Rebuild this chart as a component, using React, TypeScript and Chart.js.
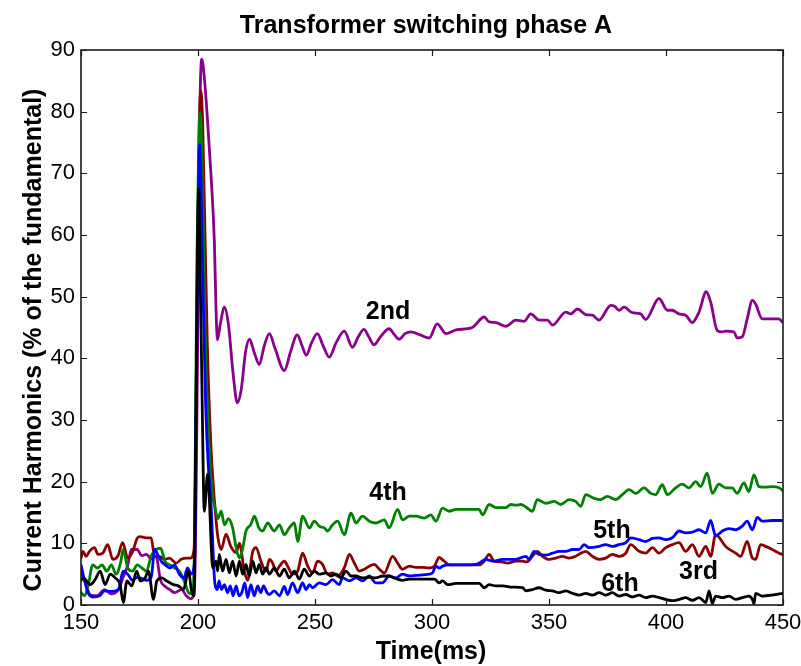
import React, { useEffect, useRef } from "react";
import { Chart, registerables } from "chart.js";

Chart.register(...registerables);

const chartTitle = "Transformer switching phase A";
const xAxisTitle = "Time(ms)";
const yAxisTitle = "Current Harmonics (% of the fundamental)";
const xTickValues = [150, 200, 250, 300, 350, 400, 450];
const yTickValues = [0, 10, 20, 30, 40, 50, 60, 70, 80, 90];

// 2nd harmonic (purple)
const h2Time = [150, 152, 154, 157, 160, 163, 166, 168, 170, 171.5, 174, 176, 178, 180, 182, 184, 186, 188, 190, 193, 195, 197, 198.5, 199.8, 200.8, 201.6, 202.6, 204, 205.6, 207, 207.7, 208.3, 209.5, 211.3, 213, 215, 216.8, 218.5, 220.3, 222, 224, 226.2, 228.3, 230.5, 233, 236.9, 239.5, 242.4, 244.5, 246.3, 248.5, 251, 253.5, 256.1, 259, 262.5, 266, 268.5, 270.9, 273, 275.2, 278, 281.6, 284, 285.9, 288.5, 291, 295, 298.8, 302.2, 306, 310.3, 317.2, 322.3, 324.4, 327.3, 331.6, 335.8, 339.4, 342.2, 345.8, 349.3, 351.5, 357.2, 359.3, 362.1, 365.7, 368.5, 371.4, 376.4, 378.2, 379.9, 382.1, 385.6, 389.2, 391.3, 397, 400.6, 402.7, 405.5, 408.4, 411.2, 414.1, 417.2, 419.1, 421.9, 424, 425.5, 429, 430.4, 432.6, 434.7, 436.9, 438.3, 441.1, 448.2, 450];
const h2Values = [5.5, 3.5, 1.6, 1.5, 2.5, 1.8, 2.5, 4.5, 6.5, 9, 9, 8, 8.2, 7.5, 8, 4, 3, 2.5, 2, 2.5, 1.5, 1, 3, 40, 80, 88.5, 86, 79, 69.5, 58.8, 48, 43, 45.5, 48.3, 45.5, 37.5, 32.8, 35, 41, 43.1, 41, 39, 42, 44, 41.5, 38, 41, 43.8, 42, 40.5, 42.5, 44, 42, 40.2, 42.5, 44.4, 41.8, 43.5, 44.7, 43.5, 42.2, 43.5, 44.8, 43.8, 43.1, 44, 44.3, 43.8, 43.3, 45.6, 44, 44.6, 45, 46.7, 45.9, 45.8, 45.2, 46.2, 46, 47.2, 46.2, 46.2, 45.4, 47.5, 47.2, 48, 47.1, 47, 46.2, 48.6, 48.4, 47.8, 48.3, 47.4, 47.2, 46.3, 49.7, 47.8, 47.8, 47.2, 47, 45.8, 47.5, 50.8, 49.1, 44.5, 44.3, 44.4, 44.3, 43.3, 43.5, 46.4, 49.4, 48.8, 46.4, 46.4, 45.8];

// 3rd harmonic (dark red)
const h3Time = [150, 150.8, 152.2, 153.6, 155.8, 157.2, 159.3, 161.4, 163.6, 165.7, 167.8, 170, 172.1, 174, 175, 177.8, 180, 181.4, 183.5, 185.7, 187.8, 190.7, 192.8, 195, 196.8, 198.3, 199.5, 200.6, 201.2, 202, 203, 204, 205.5, 207, 208.5, 209.9, 212, 214, 216.3, 217.7, 219.8, 221.2, 223.4, 224.8, 227, 229.1, 230.5, 231.9, 233.3, 234.8, 236.9, 238.3, 240.4, 242.6, 244.7, 246.9, 249, 251.1, 253.2, 255.4, 257.5, 259.7, 262.5, 264.7, 266.8, 268.9, 271.1, 273.2, 275.3, 277.5, 279.6, 283.2, 285.3, 287.4, 290.3, 293.1, 296, 298.8, 301, 303.1, 305.2, 307.4, 313.1, 317.3, 320.2, 322.3, 324.4, 326.6, 329.4, 332.3, 335.8, 338.7, 340.5, 342.9, 345, 347.2, 350, 352.9, 355.7, 358.6, 361.4, 363.6, 365.7, 368.5, 371.4, 374.2, 377.1, 379.9, 382.8, 384.9, 388.5, 391.3, 394.2, 397, 399.9, 402.7, 405.6, 408.4, 411.3, 414.1, 417, 419.1, 421.2, 425.5, 429.8, 431.9, 434.7, 436.9, 438.3, 440.4, 442.6, 445.4, 448.3, 450];
const h3Values = [7.6, 8.7, 7.9, 8.7, 9.3, 8.2, 8.4, 9.8, 7.4, 7.9, 10.1, 7.6, 8.7, 10.8, 11.1, 10.9, 10.9, 7.9, 7.9, 7.4, 7.6, 6.8, 7.4, 7.6, 7.6, 9, 45, 78, 83.4, 78, 60, 42, 26, 17, 11, 9, 11.5, 9.5, 8.5, 10, 5.5, 4, 8.7, 9.3, 7, 5.5, 7.4, 6.8, 5.5, 6.3, 7.1, 6.3, 5, 5.5, 8.4, 6.3, 5.2, 7.1, 6.6, 5, 5.2, 4.7, 6, 8.2, 6.8, 5.5, 5.8, 6.3, 6.6, 5.8, 5.2, 7.9, 6.8, 5.8, 6.3, 6.1, 6.1, 6, 6.3, 7.7, 7.1, 6.5, 6.5, 6.5, 6.5, 7.1, 8.2, 7.1, 7, 6.8, 7.1, 7.1, 7, 7.9, 8.7, 7.9, 7.4, 7.6, 7.9, 7.6, 7.9, 8.4, 8.7, 7.9, 7.4, 7.6, 8.2, 7.9, 8.4, 9.8, 8.7, 8.4, 9.3, 8.4, 9.3, 9.8, 10.1, 8.7, 9.8, 7.9, 9.5, 7.9, 11.4, 9.5, 8.4, 7.9, 10.3, 7.6, 7.4, 9.8, 9.5, 9, 8.4, 8.2];

// 4th harmonic (green)
const h4Time = [150, 151.5, 153, 155, 157, 159, 161, 163, 165, 167, 168, 170, 172, 174, 176, 178, 180, 182, 184, 186, 188, 190, 192, 194, 196, 197.5, 198.5, 199.5, 200.4, 200.9, 201.5, 202.3, 203.2, 204.5, 205.5, 206.3, 207, 208.5, 209.9, 211.3, 213, 214.8, 216.3, 217.7, 219, 220.5, 222.5, 224.1, 226, 227.6, 229.8, 232.6, 234.8, 236.9, 239, 241.2, 242.6, 244.7, 247.6, 249.7, 251.8, 254, 255.4, 257.5, 259.7, 262.5, 265.4, 267.5, 270.3, 273.2, 276, 279.6, 281.7, 285.3, 287.4, 290.3, 293.1, 296.7, 299.5, 301.7, 304.5, 307.3, 310.2, 315.9, 320.2, 321.6, 324.4, 327.3, 331.6, 333.7, 335.8, 338, 340.1, 342.9, 345, 348.6, 352.2, 355, 358.6, 361.4, 363.6, 365.7, 369.3, 372.1, 374.9, 378.5, 381.3, 384.2, 387.1, 390.6, 393.5, 395.6, 398.4, 400.6, 404.1, 407, 409.8, 412.7, 414.8, 417.6, 419.8, 422.6, 425.5, 428.3, 430.4, 433.3, 435.4, 437.6, 439.7, 442.6, 445.4, 448.3, 450];
const h4Values = [2, 1.5, 3, 6.5, 6, 6.5, 5.5, 6.5, 5, 7, 9, 6, 5.5, 6.5, 6, 5.5, 8, 9, 9.2, 7, 6.5, 6, 5.5, 4, 2, 1.8, 10, 55, 77, 79.8, 75, 60, 42, 28, 21, 17.5, 16.3, 14, 15.2, 13, 14, 12.5, 9.3, 7.6, 9, 12, 13, 14.4, 12.5, 12, 13.3, 12, 13, 11.4, 12.5, 13.3, 10.3, 14.4, 12.5, 13.6, 12.8, 12.5, 12, 13, 13.6, 11.4, 14.9, 13.3, 14.4, 13.6, 13.3, 13.8, 12.5, 15.5, 13.8, 14.4, 14.4, 14.1, 14.6, 13.6, 15.7, 15.2, 15.5, 15.5, 15.5, 14.6, 16.3, 15.8, 15.8, 16.3, 16.2, 16.3, 15.9, 15.2, 17.1, 16.5, 16.8, 16.3, 17.1, 16.8, 16, 17.9, 17.3, 17.1, 17.6, 17.1, 17.9, 18.7, 18.1, 19, 18.1, 17.9, 19.5, 17.9, 19, 19.6, 19, 20, 19.2, 21.4, 18.1, 19.6, 19, 19, 18.1, 19.8, 18.4, 21.1, 19.2, 19.1, 19.2, 19, 18.5];

// 5th harmonic (blue)
const h5Time = [150, 151.5, 153, 155, 158, 160, 163, 166, 168, 170, 172, 174, 176, 178, 180, 181.5, 183, 184.5, 186, 188, 190, 192, 194, 195.5, 197, 198.5, 199.3, 200.3, 200.7, 201.3, 202.2, 203.3, 204.5, 205.5, 206.3, 207.2, 208.2, 209, 210, 211.3, 212.6, 213.8, 215, 216.3, 217.5, 218.7, 220, 221.2, 222.6, 224, 225.5, 226.8, 228, 229.5, 230.5, 232.6, 234.8, 236.9, 238.3, 240.4, 242.6, 244.7, 246.2, 247.6, 249, 251.8, 254.7, 257.5, 260.3, 261.8, 264.7, 267.5, 270.3, 273.2, 276, 278.8, 281.7, 284.5, 287.4, 290.3, 293.1, 298.8, 300.2, 301.7, 303.1, 304.5, 307.3, 313.1, 318.8, 320.2, 323, 325.9, 330.2, 335.8, 340.1, 341.5, 343.6, 345.7, 348.6, 351.5, 354.3, 357.2, 360, 362.9, 365, 367.1, 371.4, 374.2, 377.1, 379.9, 382.8, 384.9, 388.5, 391.3, 394.2, 397, 399.9, 402.7, 405.6, 408.4, 411.3, 414.1, 417, 419.1, 421.2, 424.1, 426.9, 429.8, 432.6, 434.7, 436.9, 439, 441.1, 445.4, 450];
const h5Values = [6.5, 4, 2, 1.3, 1.5, 2.3, 2.2, 2.5, 5.5, 5, 4, 4.5, 4.3, 4, 4.5, 9, 8, 7, 6.5, 6, 6.5, 5, 4.4, 6, 5, 7, 35, 70, 74.7, 68, 50, 32, 22, 17, 10, 3.5, 2.5, 3.9, 2.5, 3.3, 2, 3.1, 1.5, 3.1, 1.5, 2, 3.6, 1.2, 3.3, 1.5, 3.1, 2, 3.1, 2, 1.7, 2.3, 1.5, 3, 1.7, 3.6, 2, 3.6, 2.5, 3.3, 2.8, 3.6, 3.3, 4.1, 3.3, 4.4, 3.9, 4.4, 3.9, 4.7, 3.6, 3.6, 4.7, 4.4, 5, 4.7, 4.8, 5, 5.2, 6.3, 6, 6.3, 6.5, 6.5, 6.6, 6.8, 7.4, 7.1, 7.4, 7.4, 7.9, 7.4, 8.7, 8.2, 8.1, 8.4, 8.7, 8.7, 9, 9, 9.8, 9.3, 9.5, 9.8, 9.5, 9.8, 10.1, 10.9, 10.6, 10.3, 10.8, 10.9, 10.6, 10.9, 12, 11.7, 11.8, 12.2, 11.7, 13.7, 11.2, 12, 12.4, 12.2, 12.8, 13.6, 12.2, 14.2, 13.6, 13.7, 13.7];

// 6th harmonic (black)
const h6Time = [150, 151, 153.9, 156, 158.2, 160.3, 162.5, 164.6, 166.7, 168.1, 169.6, 171.7, 173.8, 175.3, 177.4, 178.8, 181, 182.4, 184.5, 186.6, 189.5, 191.6, 193.8, 195.9, 197.3, 198.3, 199, 199.9, 200.3, 200.9, 201.7, 202.7, 204.1, 205, 205.6, 206.3, 207.7, 208.4, 209.1, 210.5, 212, 213.4, 214.8, 216.3, 217.7, 219.1, 220.5, 221.9, 223.4, 224.8, 226.2, 227.6, 229.1, 230.5, 232.6, 234.8, 236.9, 239, 241.2, 243.3, 245.4, 247.6, 249.7, 251.8, 254.7, 256.8, 259, 261.1, 263.2, 265.4, 267.5, 270.3, 273.2, 276, 278.8, 281.7, 284.5, 287.4, 290.3, 294.6, 298.8, 301, 303.1, 304.5, 306.7, 310.2, 315.9, 320.2, 322.3, 324.4, 327.3, 330.2, 334.4, 338.7, 340.1, 342.9, 345.7, 348.6, 351.5, 354.3, 357.2, 360, 362.9, 365.7, 368.5, 371.4, 374.2, 377.1, 379.9, 382.8, 385.6, 388.5, 391.3, 394.2, 397, 399.9, 402.7, 405.6, 408.4, 411.3, 414.1, 417, 418.4, 419.8, 421.2, 424.1, 426.9, 429.8, 432.6, 435.5, 436.9, 437.6, 438.3, 441.1, 445.4, 450];
const h6Values = [4, 4.4, 3.3, 4.1, 5.5, 3.3, 5, 4.4, 3.3, 0.4, 3.9, 3.1, 5.5, 3.9, 4.4, 5.5, 0.9, 3.9, 4.4, 3.9, 3.3, 3.1, 2.5, 5.5, 2.2, 1.5, 25, 62, 67.5, 55, 35, 15.2, 21.2, 16, 10, 6, 7.1, 5.5, 8.2, 5.5, 7.4, 5.2, 7.1, 4.7, 7.1, 5, 6.6, 4.7, 7.1, 5.2, 6.6, 5, 6, 5, 6, 4.7, 5.8, 4.4, 5.5, 4.2, 5.8, 4.7, 5.5, 5, 5.2, 4.7, 5, 4.4, 5.5, 4.7, 4.7, 4.4, 4.5, 4.4, 4.7, 4.7, 4.3, 4, 4.2, 4.2, 4.2, 4.2, 3.6, 3.9, 3.3, 3.5, 3.5, 3.5, 2.8, 3.3, 3.1, 3.1, 2.9, 2.8, 2.3, 2.5, 2.8, 2.4, 2.3, 2, 2.3, 1.9, 1.6, 1.9, 1.6, 2, 1.6, 2, 1.45, 1.7, 1.3, 1.6, 1.2, 1.45, 1.2, 0.9, 0.7, 0.9, 1.2, 0.76, 1.2, 0.4, 2.3, 0.2, 1.45, 1.2, 1.45, 0.9, 1.2, 1.45, 0.9, 0.2, 1.9, 1.45, 1.6, 1.9];

const seriesNames = ["2nd", "3rd", "4th", "5th", "6th"];
const seriesColors = ["#8B008B", "#8B0000", "#008000", "#0000FF", "#000000"];
// label anchor (text baseline) in data units
const labelTimes = [281.2, 413.9, 281.2, 376.9, 380.3];
const labelValues = [46.4, 4.15, 17.1, 10.9, 2.26];

const seriesTimes = [h2Time, h3Time, h4Time, h5Time, h6Time];
const seriesValues = [h2Values, h3Values, h4Values, h5Values, h6Values];
// drawing order: black on top, purple at the back
const seriesOrder = [5, 4, 3, 2, 1];

const FONT = "'Liberation Sans', Arial, Helvetica, sans-serif";

const decorPlugin = {
  id: "decor",
  afterDatasetsDraw(chart: any) {
    const { ctx, chartArea: a, scales } = chart;
    const x = scales.x;
    const y = scales.y;
    ctx.save();
    // frame
    ctx.strokeStyle = "#1a1a1a";
    ctx.lineWidth = 1.6;
    ctx.strokeRect(a.left, a.top, a.right - a.left, a.bottom - a.top);
    // inward ticks on all sides
    ctx.lineWidth = 1.2;
    ctx.beginPath();
    xTickValues.forEach((v) => {
      const px = Math.round(x.getPixelForValue(v)) + 0.5;
      ctx.moveTo(px, a.bottom);
      ctx.lineTo(px, a.bottom - 6);
      ctx.moveTo(px, a.top);
      ctx.lineTo(px, a.top + 6);
    });
    yTickValues.forEach((v) => {
      const py = Math.round(y.getPixelForValue(v)) + 0.5;
      ctx.moveTo(a.left, py);
      ctx.lineTo(a.left + 6, py);
      ctx.moveTo(a.right, py);
      ctx.lineTo(a.right - 6, py);
    });
    ctx.stroke();

    // series labels
    ctx.fillStyle = "#000";
    ctx.font = `bold 25px ${FONT}`;
    ctx.textAlign = "center";
    ctx.textBaseline = "alphabetic";
    seriesNames.forEach((name, i) => {
      ctx.fillText(name, x.getPixelForValue(labelTimes[i]), y.getPixelForValue(labelValues[i]));
    });

    // chart title
    ctx.fillText(chartTitle, 426, 33);

    // x axis title
    ctx.fillText(xAxisTitle, 431, 659);

    // y axis title
    ctx.save();
    ctx.translate(41, 340);
    ctx.rotate(-Math.PI / 2);
    ctx.fillText(yAxisTitle, 0, 0);
    ctx.restore();

    ctx.restore();
  },
};

const zeroPad = (s: any) => {
  s.paddingLeft = 0;
  s.paddingRight = 0;
  s.paddingTop = 0;
  s.paddingBottom = 0;
};

export default function App() {
  const canvasRef = useRef<HTMLCanvasElement | null>(null);

  useEffect(() => {
    document.body.style.margin = "0";
    const canvas = canvasRef.current;
    if (!canvas) return;

    const datasets = seriesNames.map((name, i) => ({
      label: name,
      data: seriesTimes[i].map((t, k) => ({ x: t, y: seriesValues[i][k] })),
      borderColor: seriesColors[i],
      backgroundColor: seriesColors[i],
      borderWidth: 2.8,
      pointRadius: 0,
      pointHoverRadius: 0,
      fill: false,
      cubicInterpolationMode: "monotone" as const,
      borderJoinStyle: "round" as const,
      borderCapStyle: "round" as const,
      order: seriesOrder[i],
    }));

    const chart = new Chart(canvas, {
      type: "line",
      data: { datasets },
      options: {
        animation: false,
        responsive: false,
        devicePixelRatio: 1,
        layout: {
          autoPadding: false,
          padding: { left: 0, right: 18, top: 50, bottom: 0 },
        },
        plugins: {
          legend: { display: false },
          tooltip: { enabled: false },
          title: { display: false },
        },
        scales: {
          x: {
            type: "linear",
            min: 150,
            max: 450,
            afterBuildTicks: (s: any) => {
              s.ticks = xTickValues.map((v) => ({ value: v }));
            },
            afterFit: (s: any) => {
              s.height = 61;
              zeroPad(s);
            },
            ticks: {
              color: "#000",
              font: { family: FONT, size: 22 },
              padding: 5,
              maxRotation: 0,
              autoSkip: false,
            },
            grid: { display: false, drawTicks: false },
            border: { display: false },
          },
          y: {
            type: "linear",
            min: 0,
            max: 90,
            afterBuildTicks: (s: any) => {
              s.ticks = yTickValues.map((v) => ({ value: v }));
            },
            afterFit: (s: any) => {
              s.width = 81;
              zeroPad(s);
            },
            ticks: {
              color: "#000",
              font: { family: FONT, size: 22 },
              padding: 6,
              autoSkip: false,
            },
            grid: { display: false, drawTicks: false },
            border: { display: false },
          },
        },
      },
      plugins: [decorPlugin],
    });

    return () => {
      chart.destroy();
    };
  }, []);

  return (
    <div style={{ width: 801, height: 666, background: "#fff" }}>
      <canvas ref={canvasRef} width={801} height={666} style={{ display: "block" }} />
    </div>
  );
}
